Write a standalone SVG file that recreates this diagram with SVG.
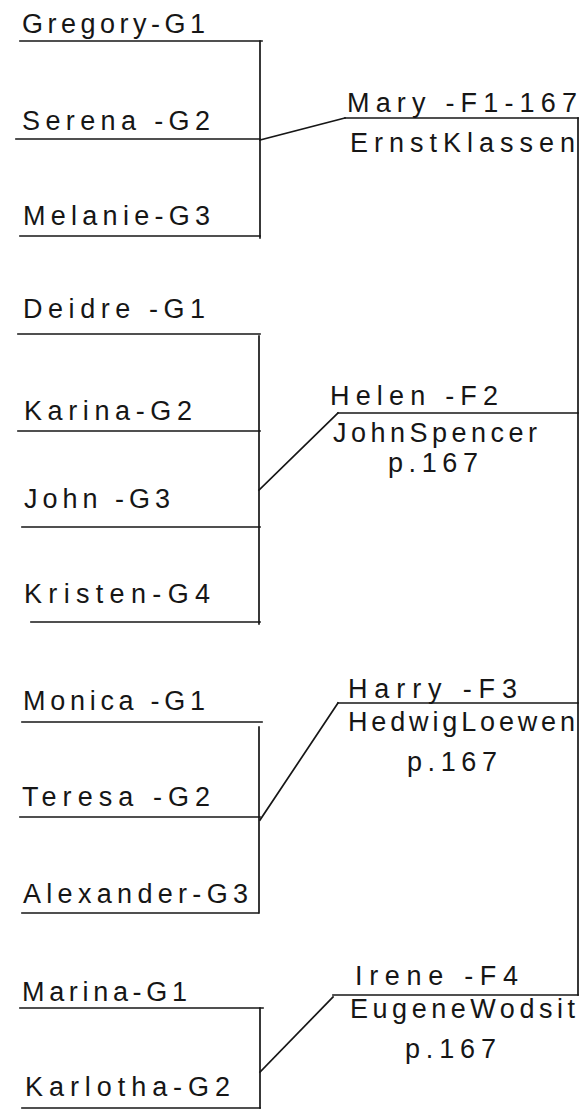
<svg xmlns="http://www.w3.org/2000/svg" width="584" height="1112" viewBox="0 0 584 1112">
<style>
  .t { font-family: "Liberation Sans", Arial, sans-serif; font-size: 27px; fill: #161616; }
  .ln { stroke: #161616; stroke-width: 1.7; fill: none; stroke-linecap: square; }
</style>
<rect width="584" height="1112" fill="#ffffff"/>

<g id="gregory"><text class="t" x="22" y="33" textLength="183" lengthAdjust="spacing">Gregory-G1</text><line class="ln" x1="20" y1="41" x2="262" y2="41"/></g>
<g id="serena"><text class="t" x="22" y="130" textLength="188" lengthAdjust="spacing">Serena -G2</text><line class="ln" x1="16" y1="139" x2="260" y2="139"/></g>
<g id="melanie"><text class="t" x="23" y="225" textLength="187" lengthAdjust="spacing">Melanie-G3</text><line class="ln" x1="20" y1="236" x2="260" y2="236"/></g>

<g id="mary"><text class="t" x="347" y="112" textLength="230" lengthAdjust="spacing">Mary -F1-167</text><text class="t" x="350" y="152" textLength="225" lengthAdjust="spacing">ErnstKlassen</text><line class="ln" x1="345" y1="118" x2="578" y2="118"/></g>

<g id="deidre"><text class="t" x="23" y="318" textLength="182" lengthAdjust="spacing">Deidre -G1</text><line class="ln" x1="18" y1="334" x2="260" y2="334"/></g>
<g id="karina"><text class="t" x="24" y="420" textLength="168" lengthAdjust="spacing">Karina-G2</text><line class="ln" x1="18" y1="431" x2="260" y2="431"/></g>
<g id="john"><text class="t" x="24" y="508" textLength="146" lengthAdjust="spacing">John -G3</text><line class="ln" x1="22" y1="527" x2="260" y2="527"/></g>
<g id="kristen"><text class="t" x="24" y="603" textLength="186" lengthAdjust="spacing">Kristen-G4</text><line class="ln" x1="31" y1="622" x2="260" y2="622"/></g>

<g id="helen"><text class="t" x="330" y="405" textLength="168" lengthAdjust="spacing">Helen -F2</text><text class="t" x="333" y="442" textLength="204" lengthAdjust="spacing">JohnSpencer</text><text class="t" x="388" y="472" textLength="90" lengthAdjust="spacing">p.167</text><line class="ln" x1="338" y1="413" x2="578" y2="413"/></g>

<g id="monica"><text class="t" x="23" y="710" textLength="182" lengthAdjust="spacing">Monica -G1</text><line class="ln" x1="22" y1="722" x2="262" y2="722"/></g>
<g id="teresa"><text class="t" x="22" y="806" textLength="188" lengthAdjust="spacing">Teresa -G2</text><line class="ln" x1="20" y1="817" x2="260" y2="817"/></g>
<g id="alexander"><text class="t" x="23" y="903" textLength="225" lengthAdjust="spacing">Alexander-G3</text><line class="ln" x1="22" y1="913" x2="258" y2="913"/></g>

<g id="harry"><text class="t" x="348" y="698" textLength="169" lengthAdjust="spacing">Harry -F3</text><text class="t" x="348" y="731" textLength="227" lengthAdjust="spacing">HedwigLoewen</text><text class="t" x="407" y="771" textLength="90" lengthAdjust="spacing">p.167</text><line class="ln" x1="338" y1="703" x2="578" y2="703"/></g>

<g id="marina"><text class="t" x="22" y="1001" textLength="165" lengthAdjust="spacing">Marina-G1</text><line class="ln" x1="20" y1="1008" x2="263" y2="1008"/></g>
<g id="karlotha"><text class="t" x="25" y="1096" textLength="205" lengthAdjust="spacing">Karlotha-G2</text><line class="ln" x1="22" y1="1108" x2="260" y2="1108"/></g>

<g id="irene"><text class="t" x="355" y="985" textLength="163" lengthAdjust="spacing">Irene -F4</text><text class="t" x="350" y="1018" textLength="225" lengthAdjust="spacing">EugeneWodsit</text><text class="t" x="405" y="1058" textLength="91" lengthAdjust="spacing">p.167</text><line class="ln" x1="333" y1="995" x2="578" y2="995"/></g>

<g id="connectors">
  <line class="ln" x1="260" y1="41" x2="260" y2="238"/>
  <line class="ln" x1="260" y1="140" x2="345" y2="118"/>
  <line class="ln" x1="259" y1="336" x2="259" y2="624"/>
  <line class="ln" x1="259" y1="490" x2="338" y2="413"/>
  <line class="ln" x1="259" y1="727" x2="259" y2="913"/>
  <line class="ln" x1="260" y1="820" x2="338" y2="703"/>
  <line class="ln" x1="260" y1="1008" x2="260" y2="1108"/>
  <line class="ln" x1="260" y1="1072" x2="333" y2="997"/>
  <line class="ln" x1="578" y1="118" x2="578" y2="995"/>
</g>
</svg>
